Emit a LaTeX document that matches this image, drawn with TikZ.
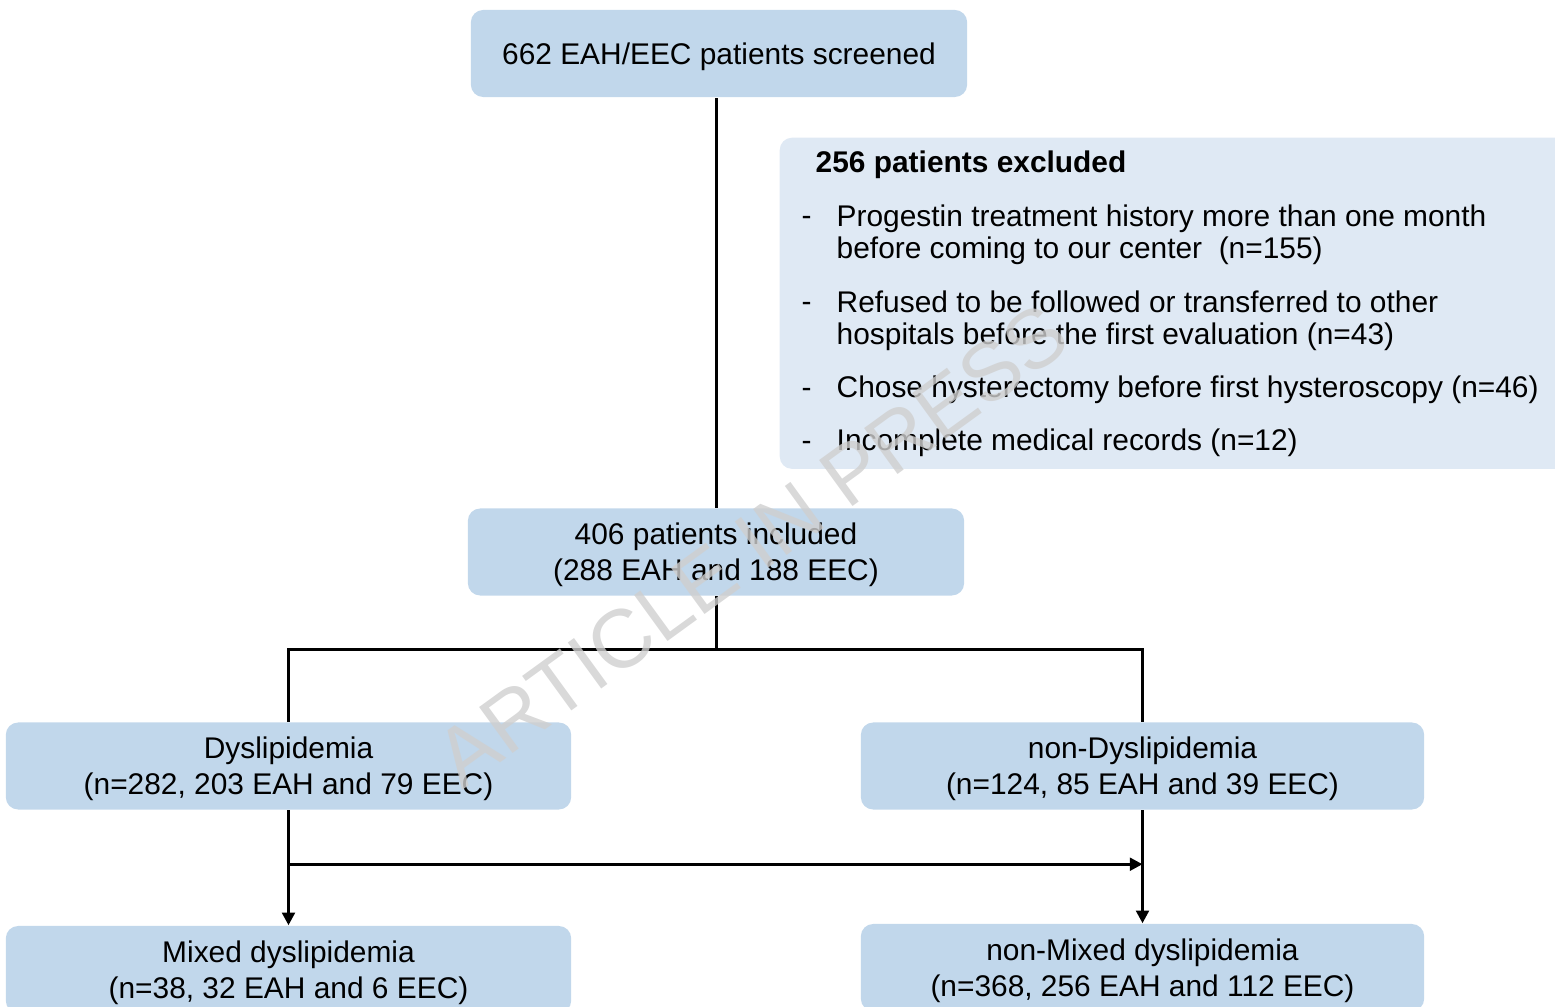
\documentclass[tikz,border=0pt]{standalone}
\usepackage{fontspec}
\setmainfont{Liberation Sans}
\usepackage{tikz}
\usetikzlibrary{positioning}
\usetikzlibrary{arrows.meta,calc}
\definecolor{boxblue}{RGB}{193,215,235}
\definecolor{paleblue}{RGB}{223,233,244}
\tikzstyle{box}=[rectangle,rounded corners=3.5pt,fill=boxblue,align=center,inner sep=0pt,text depth=0pt,font=\fontsize{8.5pt}{10.2pt}\selectfont]
\tikzstyle{exbox}=[rectangle,rounded corners=3.5pt,fill=paleblue,inner sep=0pt]
\tikzstyle{exitem}=[anchor=base west,align=left,inner sep=0pt,font=\fontsize{8.5pt}{9.3pt}\selectfont]
\tikzstyle{edge} = [draw,line width=0.85pt,-{Triangle[width=3.6pt,length=3.6pt]}]
\tikzstyle{undirectededge} = [draw,line width=0.85pt]
\tikzstyle{watermark}=[text=black!19,text opacity=0.8,inner sep=0pt,font=\fontsize{23.5pt}{23.5pt}\selectfont]

\begin{document}
\begin{tikzpicture}[x=0.01cm,y=-0.01cm]
  \useasboundingbox (0,0) rectangle (1555,1007);
  \clip (0,0) rectangle (1555,1007);

  \foreach \x/\y/\w/\name/\txt in {
     719/53.5/4.96/top/{662 EAH/EEC patients screened},
     716/552/4.96/incl/{406 patients included\\(288 EAH and 188 EEC)},
     288.5/766/5.65/dys/{Dyslipidemia\\(n=282, 203 EAH and 79 EEC)},
     1142.5/766/5.63/ndys/{non-Dyslipidemia\\(n=124, 85 EAH and 39 EEC)},
     288.5/969.5/5.65/mix/{Mixed dyslipidemia\\(n=38, 32 EAH and 6 EEC)},
     1142.5/967.5/5.63/nmix/{non-Mixed dyslipidemia\\(n=368, 256 EAH and 112 EEC)}}
        \node[box,minimum width=\w cm,minimum height=0.87cm] (\name) at (\x,\y) {\txt};

  % exclusion box
  \node[exbox,anchor=north west,minimum width=8.4cm,minimum height=3.31cm] (excl) at (779,137) {};
  \node[exitem] (extitle) at (815,173) {\bfseries 256 patients excluded};

  % items are placed by the baseline of their last line
  \foreach \y/\first/\name/\txt in {
     259/226/exa/{Progestin treatment history more than one month\\before coming to our center\ \ (n=155)},
     345/312/exb/{Refused to be followed or transferred to other\\hospitals before the first evaluation (n=43)},
     398/398/exc/{Chose hysterectomy before first hysteroscopy (n=46)},
     451/451/exd/{Incomplete medical records (n=12)}}
  {
     \node[exitem] (\name) at (836,\y) {\txt};
     \node[exitem] (\name dash) at (801,\first) {-};
  }

  % connectors
  \coordinate (split) at ($(incl.south)+(0,53)$);
  \coordinate (cross) at ($(dys.south)+(0,54)$);

  \path[undirectededge] (incl.north) -- (incl.north |- top.south);
  \path[undirectededge] (incl.south) -- (split);
  \path[undirectededge] (dys.north) |- (split) -| (ndys.north);

  \foreach \source/\dest in {dys/mix, ndys/nmix}
         \path[edge] (\source.south) -- (\dest.north);
  \path[edge] (cross) -- (cross -| ndys.south);

  \node[watermark,rotate=36] (wm) at (752,545) {ARTICLE IN PRESS};

\end{tikzpicture}
\end{document}
